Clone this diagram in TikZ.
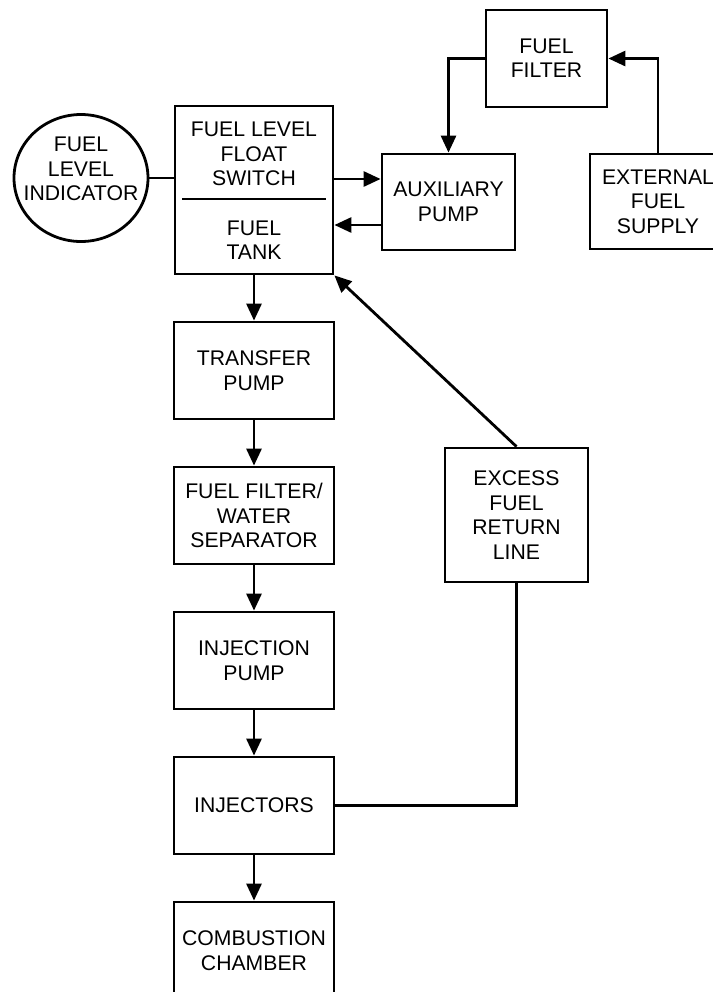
\documentclass[tikz,border=0pt]{standalone}
\usepackage{fontspec}
\setmainfont{Liberation Sans}
\usepackage{tikz}
\usetikzlibrary{arrows.meta,positioning,shapes.geometric}

\begin{document}
\begin{tikzpicture}[
    x=0.5pt, y=-0.5pt,
    node distance=22.6pt,
    font=\fontsize{10.6}{12.2}\selectfont,
    block/.style={draw, line width=1.4pt, align=center, inner sep=0pt,
                  minimum width=80pt, minimum height=48.5pt},
    gauge/.style={draw, ellipse, line width=1.4pt, inner sep=0pt,
                  minimum width=67pt, minimum height=63.5pt},
    label/.style={align=center, inner sep=0pt},
    flow/.style={line width=1.4pt, -{Triangle[length=8.5pt,width=7.5pt]}},
    pipe/.style={line width=1.4pt}
]
\useasboundingbox (0,0) rectangle (713,992);

\node[block, minimum width=79pt, minimum height=84pt] (tank) at (254,190) {};
\node[label] (switchtxt) at (254,154) {FUEL LEVEL\\FLOAT\\SWITCH};
\node[label] (tanktxt) at (254,240) {FUEL\\TANK};
\node[gauge] (indicator) at (81,178) {};
\node[label] (indicatortxt) at (81,169) {FUEL\\LEVEL\\INDICATOR};
\node[block, minimum width=66.5pt, minimum height=48pt] (aux) at (448.5,202) {AUXILIARY\\PUMP};
\node[block, minimum width=60.5pt] (filter) at (546.5,58.5) {FUEL\\FILTER};
\node[block, minimum width=68pt, minimum height=47.5pt] (supply) at (658,201.5) {EXTERNAL\\FUEL\\SUPPLY};

\node[block, below=of tank] (transfer) {TRANSFER\\PUMP};
\node[block, below=of transfer] (separator) {FUEL FILTER/\\WATER\\SEPARATOR};
\node[block, below=of separator] (injpump) {INJECTION\\PUMP};
\node[block, below=of injpump] (injectors) {INJECTORS};
\node[block, below=of injectors] (chamber) {COMBUSTION\\CHAMBER};
\node[block, minimum width=71.5pt, minimum height=67pt] (excess) at (516.5,515) {EXCESS\\FUEL\\RETURN\\LINE};

% Tank divider
\draw[pipe] (182,199) -- (326,199);

% Supply loop
\draw[pipe] (indicator.east) -- (indicator.east -| tank.west);
\draw[flow] (supply.north) |- (filter.east);
\draw[flow] (filter.west) -| (aux.north);
\draw[flow] ([yshift=11.5pt]aux.west -| tank.east) -- ([yshift=11.5pt]aux.west);
\draw[flow] ([yshift=-11.5pt]aux.west) -- ([yshift=-11.5pt]aux.west -| tank.east);

% Feed to engine
\draw[flow] (tank.south) -- (transfer.north);
\draw[flow] (transfer) -- (separator);
\draw[flow] (separator) -- (injpump);
\draw[flow] (injpump) -- (injectors);
\draw[flow] (injectors) -- (chamber);

% Return path
\draw[pipe] (injectors.east) -| (excess.south);
\draw[flow] (excess.north) -- (tank.south east);

\end{tikzpicture}
\end{document}
